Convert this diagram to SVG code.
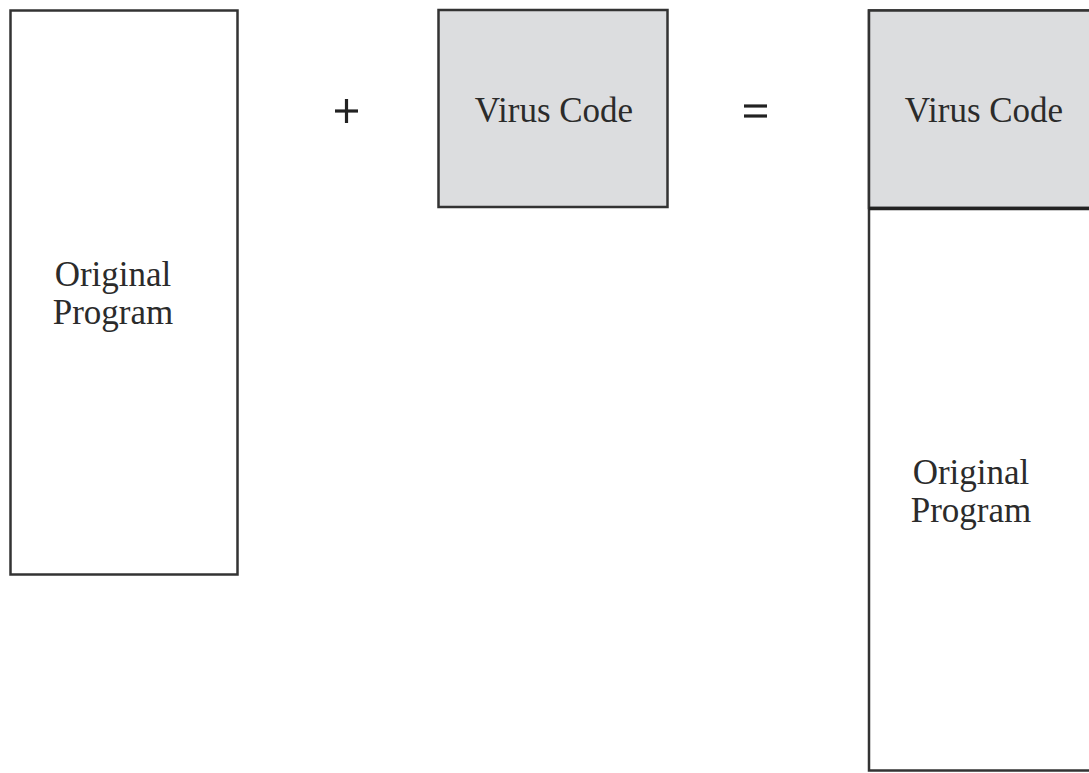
<svg xmlns="http://www.w3.org/2000/svg" width="1089" height="773" viewBox="0 0 1089 773">
  <style>
    .box { stroke: #333333; stroke-width: 2.5; }
    .plain { fill: #ffffff; }
    .shade { fill: #dcdddf; }
    .lbl { font-family: "Liberation Serif", "Times New Roman", serif; font-size: 35px; fill: #2b2b2b; text-anchor: middle; }
    .op { stroke: #222222; stroke-width: 3.2; fill: none; }
  </style>
  <rect width="1089" height="773" fill="#ffffff"/>
  <g id="original-program">
    <rect class="box plain" x="10.5" y="10.5" width="227" height="564"/>
    <text class="lbl" x="113" y="286">Original</text>
    <text class="lbl" x="113" y="324">Program</text>
  </g>
  <g id="plus">
    <line class="op" x1="335" y1="111" x2="358" y2="111"/>
    <line class="op" x1="346.5" y1="99" x2="346.5" y2="123"/>
  </g>
  <g id="virus-code">
    <rect class="box shade" x="438.5" y="10" width="229" height="197"/>
    <text class="lbl" x="554" y="122">Virus Code</text>
  </g>
  <g id="equals">
    <line class="op" x1="744" y1="106" x2="767" y2="106"/>
    <line class="op" x1="744" y1="116" x2="767" y2="116"/>
  </g>
  <g id="infected-program">
    <rect class="box plain" x="869" y="10.5" width="240" height="760"/>
    <rect class="box shade" x="869" y="10.5" width="240" height="197.5"/>
    <line x1="869" y1="208.5" x2="1089" y2="208.5" stroke="#222222" stroke-width="3.5"/>
    <text class="lbl" x="984" y="122">Virus Code</text>
    <text class="lbl" x="971" y="484">Original</text>
    <text class="lbl" x="971" y="522">Program</text>
  </g>
  <g id="connectors"/>
</svg>
